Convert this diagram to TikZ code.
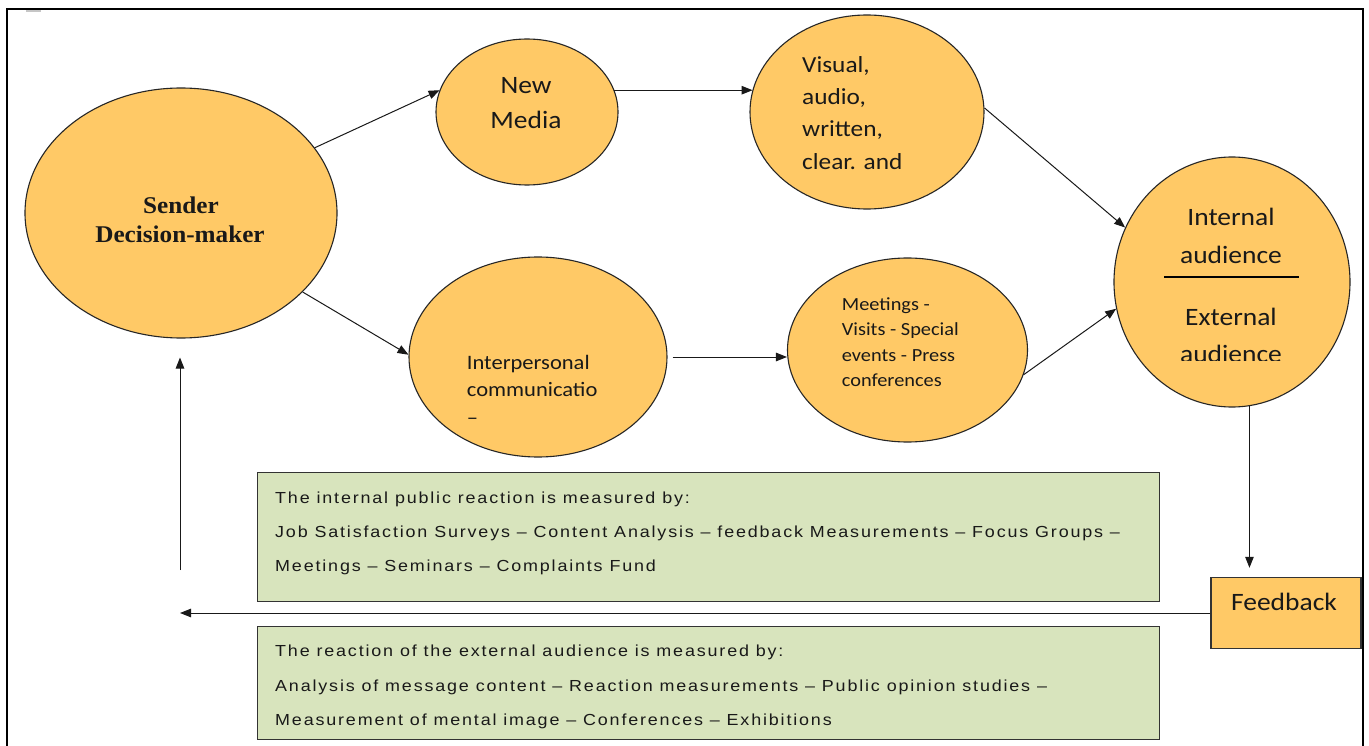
\documentclass[tikz,border=0pt]{standalone}
\usepackage{fontspec}
\usetikzlibrary{shapes.geometric,arrows.meta}
\setmainfont{Carlito}
\newfontfamily\calib[FakeStretch=1.1]{Carlito}
\newfontfamily\serifb[FakeStretch=1.05]{Liberation Serif}
\newfontfamily\boxfont[FakeStretch=1.12,LetterSpace=11.5]{Liberation Sans}
\definecolor{bubblefill}{RGB}{255,201,102}
\definecolor{notefill}{RGB}{216,228,189}
\tikzset{
  bubble/.style={ellipse, draw=black!85, line width=1.1pt, fill=bubblefill, inner sep=0pt},
  notebox/.style={draw=black!80, line width=1.4pt, fill=notefill, inner sep=0pt, anchor=north west},
  fbbox/.style={draw=black!80, line width=1.4pt, fill=bubblefill, inner sep=0pt},
  conn/.style={draw=black!90, line width=1pt, -{Triangle[length=11pt,width=8.5pt]}},
  txt/.style={inner sep=0pt, text=black!90},
  bigtxt/.style={txt, font=\calib\fontsize{25}{30}\selectfont},
  midtxt/.style={txt, font=\calib\fontsize{23}{28}\selectfont},
  smalltxt/.style={txt, font=\calib\fontsize{18.5}{22}\selectfont},
  ipctxt/.style={txt, font=\calib\fontsize{20.5}{24}\selectfont},
  sendertxt/.style={txt, font=\serifb\bfseries\fontsize{24}{28}\selectfont},
  notetxt/.style={txt, anchor=base west, font=\boxfont\fontsize{16}{20}\selectfont},
}
\begin{document}
\begin{tikzpicture}[x=1pt, y=-1pt]
\useasboundingbox (0,0) rectangle (1369,746);
\clip (0,0) rectangle (1369,746);
\fill[white] (0,0) rectangle (1369,746);

% outer frame
\draw[line width=2.2pt] (6.7,760) -- (6.7,9) -- (1363,9) -- (1363,760);
\fill[gray!45] (26,10) rectangle (41,12.5);

% bubbles
\node[bubble, minimum width=312, minimum height=250] (sender) at (181,213) {};
\node[bubble, minimum width=182, minimum height=146] (newmedia) at (527,112) {};
\node[bubble, minimum width=258, minimum height=200] (interp) at (538,357) {};
\node[bubble, minimum width=234, minimum height=194] (visual) at (867,112) {};
\node[bubble, minimum width=240, minimum height=184] (meetings) at (907.5,350) {};
\node[bubble, minimum width=236, minimum height=250] (audience) at (1232,282) {};

% bubble texts
\node[sendertxt, anchor=base] (sender1) at (181,214) {Sender};
\node[sendertxt, anchor=base] (sender2) at (180,243) {Decision-maker};

\node[bigtxt, anchor=base] (nm1) at (526,93.3) {New};
\node[bigtxt, anchor=base] (nm2) at (526,128.3) {Media};

\node[midtxt, anchor=base west] (vis1) at (802,72.7) {Visual,};
\node[midtxt, anchor=base west] (vis2) at (802,105) {audio,};
\node[midtxt, anchor=base west] (vis3) at (802,136.7) {written,};
\node[midtxt, anchor=base west] (vis4) at (802,170) {clear. and};

\node[bigtxt, anchor=base] (aud1) at (1231,225.7) {Internal};
\node[bigtxt, anchor=base] (aud2) at (1231,263.3) {audience};
\draw[line width=2pt] (1164,277) -- (1298.5,277);
\node[bigtxt, anchor=base] (aud3) at (1231,326) {External};
\begin{scope}
  \clip (1100,300) rectangle (1360,360.5);
  \node[bigtxt, anchor=base] (aud4) at (1231,362.7) {audience};
\end{scope}

\node[smalltxt, anchor=base west] (mt1) at (841.7,311) {Meetings -};
\node[smalltxt, anchor=base west] (mt2) at (841.7,335.5) {Visits - Special};
\node[smalltxt, anchor=base west] (mt3) at (841.7,361) {events - Press};
\node[smalltxt, anchor=base west] (mt4) at (841.7,386.5) {conferences};

\node[ipctxt, anchor=base west] (ip1) at (466.7,369.3) {Interpersonal};
\node[ipctxt, anchor=base west] (ip2) at (466.7,396.7) {communicatio};
\node[ipctxt, anchor=base west] (ip3) at (466.7,424) {–};

% feedback box
\node[fbbox, minimum width=150, minimum height=71] (feedback) at (1286,613) {};
\node[bigtxt, anchor=base] (fbtext) at (1284,610.7) {Feedback};

% measurement boxes
\node[notebox, minimum width=902, minimum height=129] (intbox) at (256.5,472) {};
\node[notetxt] (int1) at (275,503.3) {The internal public reaction is measured by:};
\node[notetxt] (int2) at (275,537.7) {Job Satisfaction Surveys – Content Analysis – feedback Measurements – Focus Groups –};
\node[notetxt] (int3) at (275,571) {Meetings – Seminars – Complaints Fund};

\node[notebox, minimum width=902, minimum height=113.3] (extbox) at (256.5,625.7) {};
\node[notetxt] (ext1) at (275,656.6) {The reaction of the external audience is measured by:};
\node[notetxt] (ext2) at (275,691.3) {Analysis of message content – Reaction measurements – Public opinion studies –};
\node[notetxt] (ext3) at (275,725.6) {Measurement of mental image – Conferences – Exhibitions};

% connectors
\draw[conn] (sender.26) -- (newmedia.166);
\draw[conn] (sender.-33.5) -- (interp.179);
\draw[conn] (newmedia.14) -- (newmedia.14 -| visual.169);
\draw[conn, shorten <=5pt] (interp.east) -- (interp.east -| meetings.west);
\draw[conn] (visual.2) -- (audience.153);
\draw[conn] (meetings.-12) -- (audience.193);
\draw[conn, shorten >=9pt] (audience.-82) -- (audience.-82 |- feedback.north);
\coordinate (fbend) at (180,613);
\draw[conn] (feedback.west) -- (fbend);
\coordinate (upstart) at (180,570);
\draw[conn, shorten >=19pt] (upstart) -- (upstart |- sender.south);
\end{tikzpicture}
\end{document}
